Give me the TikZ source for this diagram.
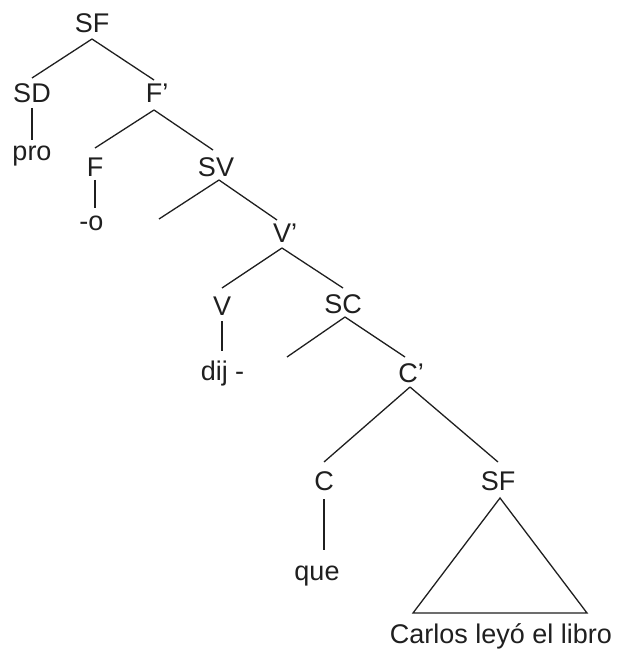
\documentclass[tikz,border=0pt]{standalone}
\usepackage{fontspec}
\setmainfont{Liberation Sans}
\begin{document}
\begin{tikzpicture}[x=1pt,y=-1pt,
  lab/.style={font=\fontsize{27}{30}\selectfont, text=black!88, inner sep=0pt, outer sep=0pt,
              text height=19.3pt, text depth=0pt, anchor=base},
  br/.style={draw=black!88, line width=1.3pt}]
\useasboundingbox (0,0) rectangle (616,652);
% nodes
\node[lab] (sfa) at (92,33) {SF};
\node[lab] (sd) at (32,103) {SD};
\node[lab] (pro) at (32,161) {pro};
\node[lab] (fb) at (154,103) {F\rlap{’}};
\node[lab] (f) at (95,177) {F};
\node[lab] (o) at (91.5,230) {-o};
\node[lab] (sv) at (216,177) {SV};
\node[lab] (vb) at (282,242) {V\rlap{’}};
\node[lab] (v) at (222,315) {V};
\node[lab] (dij) at (222.5,380) {dij -};
\node[lab] (sc) at (343,313) {SC};
\node[lab] (cb) at (408,382) {C\rlap{’}};
\node[lab] (c) at (324,490) {C};
\node[lab] (que) at (317,580) {que};
\node[lab] (sfb) at (498,490) {SF};
\node[lab] (carlos) at (501,643) {Carlos leyó el libro};
\coordinate (e1) at (159,219);
\coordinate (e2) at (287,357);
% connectors
\draw[br] ([yshift=-6pt]sfa.south) -- ([yshift=5.7pt]sd.north);
\draw[br] ([yshift=-6pt]sfa.south) -- ([yshift=3.7pt]fb.north);
\draw[br] ([yshift=-5pt]sd.south) -- ([yshift=1.7pt]sd.south |- pro.north);
\draw[br] ([yshift=-7pt]fb.south) -- ([yshift=9.7pt]f.north);
\draw[br] ([yshift=-7pt]fb.south) -- ([xshift=-3pt,yshift=7.7pt]sv.north);
\draw[br] ([yshift=-3pt]f.south) -- ([yshift=2.7pt]f.south |- o.north);
\draw[br] ([xshift=3pt,yshift=-3pt]sv.south) -- (e1);
\draw[br] ([xshift=3pt,yshift=-3pt]sv.south) -- ([xshift=-5pt,yshift=2.7pt]vb.north);
\draw[br] ([yshift=-6pt]vb.south) -- ([yshift=7.7pt]v.north);
\draw[br] ([yshift=-6pt]vb.south) -- ([yshift=5.7pt]sc.north);
\draw[br] ([yshift=-6pt]v.south) -- ([yshift=9.7pt]v.south |- dij.north);
\draw[br] ([xshift=2pt,yshift=-4pt]sc.south) -- (e2);
\draw[br] ([xshift=2pt,yshift=-4pt]sc.south) -- ([xshift=-3pt,yshift=5.7pt]cb.north);
\draw[br] ([xshift=2pt,yshift=-5pt]cb.south) -- ([yshift=8.7pt]c.north);
\draw[br] ([xshift=2pt,yshift=-5pt]cb.south) -- ([yshift=8.7pt]sfb.north);
\draw[br] ([yshift=-9pt]c.south) -- ([yshift=10.7pt]c.south |- que.north);
\draw[br, line join=miter] ([xshift=2pt,yshift=-8pt]sfb.south) -- ++(-87,115) -- ++(174,0) -- cycle;
\end{tikzpicture}
\end{document}
